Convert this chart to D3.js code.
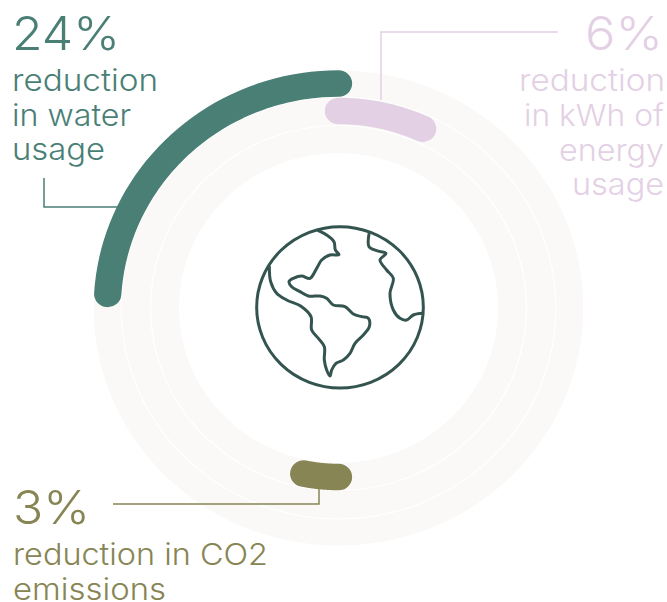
<!DOCTYPE html>
<html>
<head>
<meta charset="utf-8">
<script src="https://cdn.jsdelivr.net/npm/d3@7/dist/d3.min.js"></script>
<style>
  html, body { margin: 0; background: #fff; }
  text { font-family: Inter, "Noto Sans", sans-serif; font-weight: 300; }
</style>
</head>
<body>
<svg id="chart" width="667" height="602"></svg>
<script>
// data
const categories = ["water", "energy", "co2"];
const percentLabels = ["24%", "6%", "3%"];
const arcSpans = [24, 6.8, 3.2];           // arc length, % of a full turn
const arcStarts = [-24, 0, 50];            // where each arc begins, % of a full turn from the top
const descriptions = [
  ["reduction", "in water", "usage"],
  ["reduction", "in kWh of", "energy", "usage"],
  ["reduction in CO2", "emissions"]
];
const colors = ["#4a7f76", "#e3d0e4", "#878553"];

// layout
const cx = 338.5, cy = 308, stretchX = 1.03;
const ringOuter = 237.5, ringInner = 155;
const ringEdges = [211, 182.5];
const trackRadius = [224.5, 197, 169];
const trackWidth = 26.5;

const svg = d3.select("#chart");
const angle = d3.scaleLinear().domain([0, 100]).range([0, 2 * Math.PI]);

const ring = svg.append("g")
  .attr("transform", `translate(${cx},${cy}) scale(${stretchX},1)`);

// background band
ring.append("path")
  .attr("d", d3.arc()({ innerRadius: ringInner, outerRadius: ringOuter, startAngle: 0, endAngle: 2 * Math.PI }))
  .attr("fill", "#faf9f7");

ring.selectAll("circle.edge")
  .data(ringEdges)
  .enter()
  .append("circle")
  .attr("class", "edge")
  .attr("r", d => d)
  .attr("fill", "none")
  .attr("stroke", "#fff")
  .attr("stroke-width", 1.2);

// the arcs, round ended
const arcPath = (r, a0, a1) => {
  const steps = d3.range(0, 41).map(i => a0 + (a1 - a0) * i / 40);
  return d3.lineRadial().angle(d => d).radius(r)(steps);
};

ring.selectAll("path.bar")
  .data(categories)
  .enter()
  .append("path")
  .attr("class", "bar")
  .attr("d", (d, i) => arcPath(trackRadius[i], angle(arcStarts[i]), angle(arcStarts[i] + arcSpans[i])))
  .attr("fill", "none")
  .attr("stroke", (d, i) => colors[i])
  .attr("stroke-width", trackWidth)
  .attr("stroke-linecap", "round");

// leader lines
const leaders = [
  [[44, 178], [44, 207], [120, 207]],
  [[558, 32], [381, 32], [381, 100]],
  [[113, 504], [319, 504], [319, 487]]
];
svg.selectAll("path.leader")
  .data(leaders)
  .enter()
  .append("path")
  .attr("class", "leader")
  .attr("d", d3.line())
  .attr("fill", "none")
  .attr("stroke", (d, i) => colors[i])
  .attr("stroke-width", 1.5);

// text
const bigPos = [
  { x: 12, y: 50, len: 108 },
  { x: 585, y: 50, len: 78 },
  { x: 13, y: 524, len: 77 }
];
const linePos = [
  [{ x: 12, y: 91, len: 146 }, { x: 12, y: 126, len: 119 }, { x: 12, y: 160, len: 93 }],
  [{ x: 519, y: 91, len: 146 }, { x: 524, y: 126, len: 140 }, { x: 559, y: 161, len: 105 }, { x: 572, y: 195, len: 92 }],
  [{ x: 13, y: 565, len: 255 }, { x: 13, y: 600, len: 153 }]
];

percentLabels.forEach((label, i) => {
  svg.append("text")
    .attr("x", bigPos[i].x)
    .attr("y", bigPos[i].y)
    .attr("font-size", 47)
    .attr("fill", colors[i])
    .attr("textLength", bigPos[i].len)
    .attr("lengthAdjust", "spacingAndGlyphs")
    .text(label);

  descriptions[i].forEach((line, j) => {
    svg.append("text")
      .attr("x", linePos[i][j].x)
      .attr("y", linePos[i][j].y)
      .attr("font-size", 30)
      .attr("fill", colors[i])
      .attr("textLength", linePos[i][j].len)
      .attr("lengthAdjust", "spacingAndGlyphs")
      .text(line);
  });
});

// globe icon, outlines traced in a 0..660 by 0..570 box
const iconX = d3.scaleLinear().domain([0, 660]).range([230, 450]);
const iconY = d3.scaleLinear().domain([0, 570]).range([210, 400]);
const globeLine = d3.line().x(d => iconX(d[0])).y(d => iconY(d[1])).curve(d3.curveCatmullRom.alpha(0.5));

const americas = [
  [265, 62], [290, 75], [312, 95], [316, 120], [327, 134], [300, 135], [275, 150], [260, 175],
  [240, 205], [215, 198], [190, 205], [177, 215], [185, 230], [210, 245], [235, 258], [270, 258],
  [290, 265], [310, 285], [345, 290], [370, 312], [395, 320], [415, 325], [418, 350], [400, 375],
  [375, 400], [360, 430], [340, 450], [318, 460], [305, 480], [300, 498], [290, 480], [283, 450],
  [283, 410], [265, 385], [245, 360], [243, 320], [215, 290], [170, 270], [140, 250], [122, 215], [118, 170]
];
const africa = [
  [417, 72], [417, 110], [440, 122], [468, 130], [450, 150], [470, 180], [490, 205], [480, 250],
  [490, 300], [510, 325], [530, 330], [550, 315], [578, 310]
];

const globe = svg.append("g")
  .attr("fill", "none")
  .attr("stroke", "#34544f")
  .attr("stroke-width", 3)
  .attr("stroke-linejoin", "round")
  .attr("stroke-linecap", "round");

globe.append("ellipse")
  .attr("cx", iconX(330))
  .attr("cy", iconY(292))
  .attr("rx", iconX(580) - iconX(330))
  .attr("ry", iconY(534) - iconY(292));

globe.selectAll("path")
  .data([americas, africa])
  .enter()
  .append("path")
  .attr("d", globeLine);
</script>
</body>
</html>
